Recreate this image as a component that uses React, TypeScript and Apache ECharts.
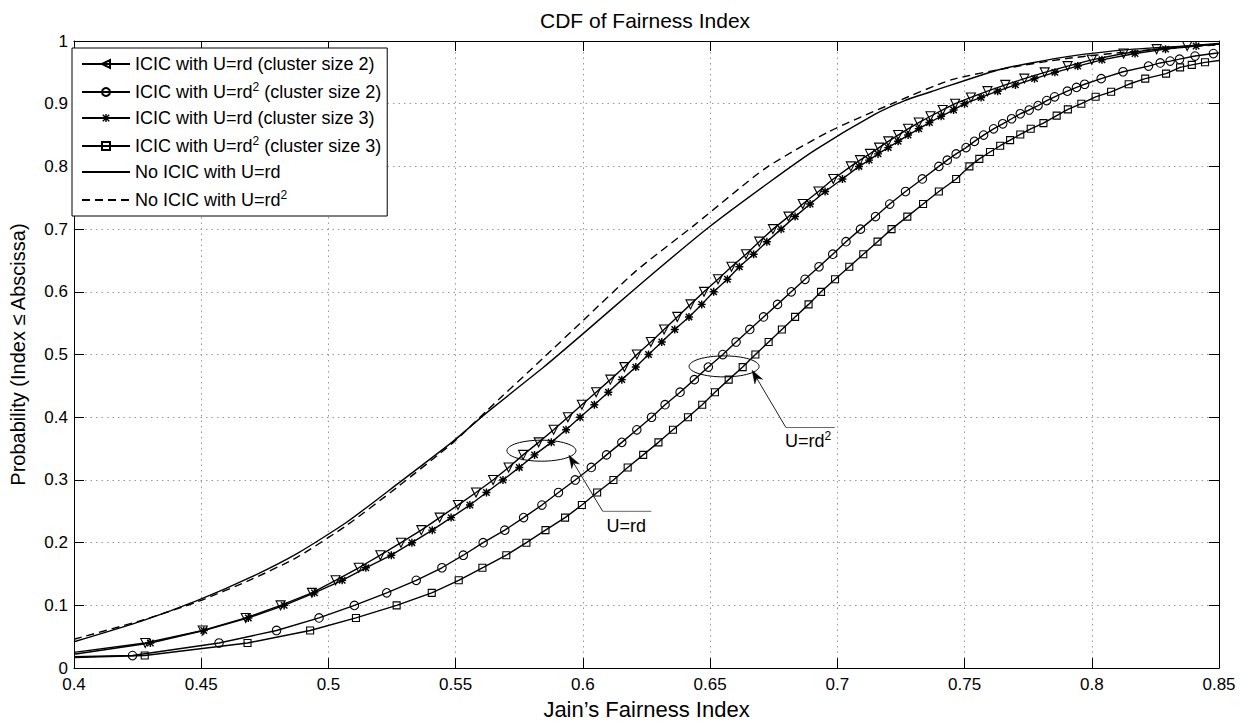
import React, { useEffect, useRef } from 'react';
import * as echarts from 'echarts';

// ---------- data ----------
const xTicksMin = 0.4;
const xTicksMax = 0.85;
const xTickStep = 0.05;
const yTicksMin = 0;
const yTicksMax = 1;
const yTickStep = 0.1;

const seriesNames = [
  'ICIC with U=rd (cluster size 2)',
  'ICIC with U=rd2 (cluster size 2)',
  'ICIC with U=rd (cluster size 3)',
  'ICIC with U=rd2 (cluster size 3)',
  'No ICIC with U=rd',
  'No ICIC with U=rd2',
];

// ICIC, U=rd, cluster size 2 (triangles)
const icicRdC2Start: [number, number] = [0.4, 0.025];
const icicRdC2Marks: [number, number][] = [
  [0.428, 0.04], [0.4506, 0.06], [0.4675, 0.08], [0.4812, 0.10], [0.4935, 0.12], [0.5028, 0.14],
  [0.5119, 0.16], [0.5204, 0.18], [0.5285, 0.20], [0.5365, 0.22], [0.5437, 0.24], [0.5509, 0.26],
  [0.558, 0.28], [0.5647, 0.30], [0.5708, 0.32], [0.5765, 0.34], [0.5826, 0.36], [0.5885, 0.38],
  [0.5941, 0.40], [0.5996, 0.42], [0.6052, 0.44], [0.6108, 0.46], [0.6163, 0.48], [0.6212, 0.50],
  [0.6267, 0.52], [0.6319, 0.54], [0.6371, 0.56], [0.6423, 0.58], [0.6476, 0.60], [0.6531, 0.62],
  [0.6584, 0.64], [0.6641, 0.66], [0.6693, 0.68], [0.6747, 0.70], [0.6808, 0.72], [0.6864, 0.74],
  [0.6926, 0.76], [0.6984, 0.78], [0.7053, 0.80], [0.7089, 0.81], [0.7128, 0.82], [0.7164, 0.83],
  [0.72, 0.84], [0.7239, 0.85], [0.7278, 0.86], [0.732, 0.87], [0.7366, 0.88], [0.7414, 0.89],
  [0.7463, 0.90], [0.7525, 0.91], [0.759, 0.92], [0.766, 0.93], [0.7735, 0.94], [0.7815, 0.95],
  [0.7905, 0.96], [0.80, 0.97], [0.8125, 0.98], [0.8255, 0.987], [0.8375, 0.992],
];
const icicRdC2End: [number, number] = [0.85, 0.996];

// ICIC, U=rd^2, cluster size 2 (circles)
const icicRd2C2Start: [number, number] = [0.4, 0.018];
const icicRd2C2Marks: [number, number][] = [
  [0.423, 0.02], [0.457, 0.04], [0.4796, 0.06], [0.4963, 0.08], [0.5102, 0.10], [0.5229, 0.12],
  [0.5345, 0.14], [0.5446, 0.16], [0.553, 0.18], [0.5608, 0.20], [0.5693, 0.22], [0.5767, 0.24],
  [0.5839, 0.26], [0.5904, 0.28], [0.597, 0.30], [0.6033, 0.32], [0.6093, 0.34], [0.6153, 0.36],
  [0.6212, 0.38], [0.627, 0.40], [0.6323, 0.42], [0.6382, 0.44], [0.6438, 0.46], [0.6493, 0.48],
  [0.655, 0.50], [0.6602, 0.52], [0.6656, 0.54], [0.671, 0.56], [0.6765, 0.58], [0.6819, 0.60],
  [0.6873, 0.62], [0.6928, 0.64], [0.6982, 0.66], [0.7034, 0.68], [0.7091, 0.70], [0.715, 0.72],
  [0.7206, 0.74], [0.7268, 0.76], [0.7334, 0.78], [0.7399, 0.80], [0.7432, 0.81], [0.7467, 0.82],
  [0.7506, 0.83], [0.7539, 0.84], [0.7575, 0.85], [0.7614, 0.86], [0.765, 0.868], [0.7685, 0.876],
  [0.7719, 0.884], [0.7754, 0.89], [0.7789, 0.897], [0.7823, 0.905], [0.7854, 0.911], [0.7904, 0.92],
  [0.794, 0.926], [0.7972, 0.931], [0.8037, 0.94], [0.8123, 0.951], [0.8223, 0.96], [0.8269, 0.965],
  [0.8308, 0.968], [0.8345, 0.971], [0.8406, 0.976], [0.8478, 0.98],
];
const icicRd2C2End: [number, number] = [0.85, 0.981];

// ICIC, U=rd, cluster size 3 (stars)
const icicRdC3Start: [number, number] = [0.4, 0.022];
const icicRdC3Marks: [number, number][] = [
  [0.430, 0.04], [0.451, 0.06], [0.4685, 0.08], [0.4826, 0.10], [0.4945, 0.12], [0.5054, 0.14],
  [0.5147, 0.16], [0.5247, 0.18], [0.5328, 0.20], [0.5408, 0.22], [0.5482, 0.24], [0.5556, 0.26],
  [0.5621, 0.28], [0.5686, 0.30], [0.575, 0.32], [0.581, 0.34], [0.5876, 0.36], [0.5934, 0.38],
  [0.5989, 0.40], [0.6045, 0.42], [0.61, 0.44], [0.6153, 0.46], [0.6208, 0.48], [0.6258, 0.50],
  [0.631, 0.52], [0.6361, 0.54], [0.6417, 0.56], [0.6467, 0.58], [0.6514, 0.60], [0.6568, 0.62],
  [0.6615, 0.64], [0.6671, 0.66], [0.6723, 0.68], [0.6779, 0.70], [0.6834, 0.72], [0.6893, 0.74],
  [0.6952, 0.76], [0.702, 0.78], [0.7085, 0.80], [0.7125, 0.81], [0.716, 0.82], [0.72, 0.83],
  [0.7239, 0.84], [0.7278, 0.85], [0.732, 0.86], [0.7362, 0.87], [0.7408, 0.88], [0.7457, 0.89],
  [0.75, 0.90], [0.7565, 0.91], [0.763, 0.92], [0.770, 0.93], [0.7775, 0.94], [0.7855, 0.95],
  [0.7945, 0.96], [0.804, 0.97], [0.817, 0.98], [0.829, 0.987], [0.841, 0.992],
];
const icicRdC3End: [number, number] = [0.85, 0.995];

// ICIC, U=rd^2, cluster size 3 (squares)
const icicRd2C3Start: [number, number] = [0.4, 0.017];
const icicRd2C3Marks: [number, number][] = [
  [0.4278, 0.02], [0.4682, 0.04], [0.4928, 0.06], [0.5108, 0.08], [0.5268, 0.10], [0.5406, 0.12],
  [0.5512, 0.14], [0.5605, 0.16], [0.5699, 0.18], [0.5778, 0.20], [0.5853, 0.22], [0.593, 0.24],
  [0.5996, 0.26], [0.6056, 0.28], [0.612, 0.30], [0.6176, 0.32], [0.6237, 0.34], [0.6297, 0.36],
  [0.6354, 0.38], [0.6413, 0.40], [0.6469, 0.42], [0.6519, 0.44], [0.6573, 0.46], [0.6628, 0.48],
  [0.6678, 0.50], [0.673, 0.52], [0.6782, 0.54], [0.6834, 0.56], [0.6887, 0.58], [0.6936, 0.60],
  [0.6991, 0.62], [0.7047, 0.64], [0.7102, 0.66], [0.7158, 0.68], [0.7213, 0.70], [0.7275, 0.72],
  [0.7337, 0.74], [0.7399, 0.76], [0.7467, 0.78], [0.7519, 0.80], [0.7558, 0.812], [0.76, 0.823],
  [0.764, 0.833], [0.7679, 0.842], [0.7719, 0.851], [0.776, 0.86], [0.781, 0.869], [0.7862, 0.881],
  [0.7906, 0.891], [0.7959, 0.90], [0.8015, 0.911], [0.8076, 0.919], [0.8145, 0.931], [0.821, 0.94],
  [0.8292, 0.948], [0.8347, 0.958], [0.8393, 0.962], [0.8445, 0.966],
];
const icicRd2C3End: [number, number] = [0.85, 0.969];

// No ICIC, U=rd (solid)
const noIcicRd: [number, number][] = [
  [0.4, 0.042], [0.4265, 0.075], [0.4486, 0.108], [0.4695, 0.145], [0.4878, 0.183], [0.5073, 0.233],
  [0.5269, 0.293], [0.5491, 0.362], [0.5621, 0.407], [0.5843, 0.479], [0.60, 0.533], [0.6234, 0.615],
  [0.6495, 0.703], [0.673, 0.774], [0.6912, 0.826], [0.7147, 0.883], [0.7265, 0.905], [0.7382, 0.921],
  [0.7643, 0.955], [0.7904, 0.975], [0.8165, 0.987], [0.85, 0.995],
];

// No ICIC, U=rd^2 (dashed)
const noIcicRd2: [number, number][] = [
  [0.4, 0.046], [0.4265, 0.076], [0.4486, 0.106], [0.4695, 0.141], [0.4878, 0.177], [0.5073, 0.228],
  [0.5269, 0.288], [0.5491, 0.36], [0.5621, 0.41], [0.5843, 0.494], [0.60, 0.554], [0.6208, 0.633],
  [0.6443, 0.708], [0.6717, 0.797], [0.6965, 0.855], [0.7226, 0.902], [0.7447, 0.938], [0.767, 0.957],
  [0.79, 0.972], [0.82, 0.985], [0.85, 0.994],
];

// annotations (data coordinates)
const rdEllipseCenter: [number, number] = [0.5837, 0.3467];
const rdArrowTip: [number, number] = [0.5945, 0.3396];
const rdArrowTail: [number, number] = [0.6078, 0.25];
const rdUnderlineEnd: [number, number] = [0.6269, 0.25];
const rdLabelPos: [number, number] = [0.6093, 0.227];
const rd2EllipseCenter: [number, number] = [0.6555, 0.4811];
const rd2ArrowTip: [number, number] = [0.6665, 0.4748];
const rd2ArrowTail: [number, number] = [0.6798, 0.3836];
const rd2UnderlineEnd: [number, number] = [0.699, 0.3836];
const rd2LabelPos: [number, number] = [0.6794, 0.362];

const FONT = '"Liberation Sans", Arial, Helvetica, sans-serif';

const STAR =
  'path://M0,8.2L20,8.2L20,11.8L0,11.8Z M8.2,0L11.8,0L11.8,20L8.2,20Z ' +
  'M3.27,0.73L19.27,16.73L16.73,19.27L0.73,3.27Z M19.27,3.27L3.27,19.27L0.73,16.73L16.73,0.73Z';

function withEnds(start: [number, number], marks: [number, number][], end: [number, number]) {
  return [
    { value: start, symbol: 'none' },
    ...marks.map((m) => ({ value: m })),
    { value: end, symbol: 'none' },
  ];
}

const hollow = { color: 'rgba(0,0,0,0)', borderColor: '#000', borderWidth: 1.1 };
const lineBase = { color: '#000', width: 1.4 };

function buildOption(): any {
  const axisCommon = {
    type: 'value',
    axisLine: { show: true, onZero: false, lineStyle: { color: '#000', width: 1 } },
    axisTick: { show: true, inside: true, length: 10, lineStyle: { color: '#000', width: 1 } },
  };
  return {
    animation: false,
    backgroundColor: '#fff',
    title: {
      text: 'CDF of Fairness Index',
      left: 535,
      top: 5,
      textStyle: { fontSize: 21, fontWeight: 'normal', color: '#000', fontFamily: FONT },
    },
    grid: { left: 69, right: 24, top: 41, bottom: 48 },
    xAxis: [
      {
        ...axisCommon,
        position: 'bottom',
        min: xTicksMin,
        max: xTicksMax,
        interval: xTickStep,
        axisLabel: { color: '#000', fontSize: 17, fontFamily: FONT, margin: 8 },
        splitLine: { show: true, lineStyle: { color: '#999', type: [1.5, 4], width: 1 } },
        name: 'Jain’s Fairness Index',
        nameLocation: 'middle',
        nameGap: 27,
        nameTextStyle: { fontSize: 22, color: '#000', fontFamily: FONT },
      },
      {
        ...axisCommon,
        position: 'top',
        min: xTicksMin,
        max: xTicksMax,
        interval: xTickStep,
        axisLabel: { show: false },
        splitLine: { show: false },
      },
    ],
    yAxis: [
      {
        ...axisCommon,
        position: 'left',
        min: yTicksMin,
        max: yTicksMax,
        interval: yTickStep,
        axisLabel: { color: '#000', fontSize: 17, fontFamily: FONT, margin: 6 },
        splitLine: { show: true, lineStyle: { color: '#999', type: [1.5, 4], width: 1 } },
        name: 'Probability (Index ≤ Abscissa)',
        nameLocation: 'middle',
        nameGap: 46,
        nameTextStyle: { fontSize: 20, color: '#000', fontFamily: FONT },
      },
      {
        ...axisCommon,
        position: 'right',
        min: yTicksMin,
        max: yTicksMax,
        interval: yTickStep,
        axisLabel: { show: false },
        splitLine: { show: false },
      },
    ],
    legend: {
      orient: 'vertical',
      left: 72,
      top: 48,
      padding: [7, 6, 7, 9],
      itemGap: 8,
      itemWidth: 48,
      itemHeight: 10,
      backgroundColor: '#fff',
      borderColor: '#000',
      borderWidth: 1,
      selectedMode: false,
      textStyle: {
        color: '#000',
        fontSize: 18,
        fontFamily: FONT,
        rich: {
          t: { fontSize: 18, lineHeight: 22, fontFamily: FONT, color: '#000' },
          sup: { fontSize: 12, lineHeight: 12, verticalAlign: 'top', fontFamily: FONT, color: '#000' },
        },
      },
      formatter: (name: string) => {
        const parts = name.split('rd2');
        if (parts.length === 1) return `{t|${name}}`;
        return `{t|${parts[0]}rd}{sup|2}` + (parts[1] ? `{t|${parts[1]}}` : '');
      },
      data: [
        { name: seriesNames[0], symbolRotate: 90 },
        { name: seriesNames[1] },
        { name: seriesNames[2] },
        { name: seriesNames[3] },
        { name: seriesNames[4], itemStyle: { color: 'rgba(0,0,0,0)', borderColor: 'rgba(0,0,0,0)', borderWidth: 0 } },
        { name: seriesNames[5], itemStyle: { color: 'rgba(0,0,0,0)', borderColor: 'rgba(0,0,0,0)', borderWidth: 0 } },
      ],
    },
    series: [
      {
        name: seriesNames[0],
        type: 'line',
        data: withEnds(icicRdC2Start, icicRdC2Marks, icicRdC2End),
        symbol: 'triangle',
        symbolRotate: 180,
        symbolSize: 9,
        showAllSymbol: true,
        itemStyle: hollow,
        lineStyle: lineBase,
        z: 3,
      },
      {
        name: seriesNames[1],
        type: 'line',
        data: withEnds(icicRd2C2Start, icicRd2C2Marks, icicRd2C2End),
        symbol: 'circle',
        symbolSize: 8.5,
        showAllSymbol: true,
        itemStyle: hollow,
        lineStyle: lineBase,
        z: 3,
      },
      {
        name: seriesNames[2],
        type: 'line',
        data: withEnds(icicRdC3Start, icicRdC3Marks, icicRdC3End),
        symbol: STAR,
        symbolSize: 8,
        showAllSymbol: true,
        itemStyle: { color: '#000' },
        lineStyle: lineBase,
        z: 3,
      },
      {
        name: seriesNames[3],
        type: 'line',
        data: withEnds(icicRd2C3Start, icicRd2C3Marks, icicRd2C3End),
        symbol: 'rect',
        symbolSize: 7,
        showAllSymbol: true,
        itemStyle: hollow,
        lineStyle: lineBase,
        z: 3,
      },
      {
        name: seriesNames[4],
        type: 'line',
        data: noIcicRd,
        symbol: 'none',
        showSymbol: false,
        smooth: 0.2,
        itemStyle: { color: '#000' },
        lineStyle: lineBase,
        z: 2,
      },
      {
        name: seriesNames[5],
        type: 'line',
        data: noIcicRd2,
        symbol: 'none',
        showSymbol: false,
        smooth: 0.2,
        itemStyle: { color: '#000' },
        lineStyle: { color: '#000', width: 1.4, type: [8, 5] },
        z: 2,
      },
    ],
  };
}

function arrowGraphics(tip: number[], tail: number[], end: number[]) {
  const dx = tip[0] - tail[0];
  const dy = tip[1] - tail[1];
  const len = Math.sqrt(dx * dx + dy * dy) || 1;
  const ux = dx / len;
  const uy = dy / len;
  const nx = -uy;
  const ny = ux;
  const L = 13;
  const W = 4.5;
  const back = [tip[0] - ux * L, tip[1] - uy * L];
  const notch = [tip[0] - ux * L * 0.7, tip[1] - uy * L * 0.7];
  return [
    {
      type: 'line',
      shape: { x1: tail[0], y1: tail[1], x2: notch[0], y2: notch[1] },
      style: { stroke: '#222', lineWidth: 1 },
      silent: true,
    },
    {
      type: 'polygon',
      shape: {
        points: [
          [tip[0], tip[1]],
          [back[0] + nx * W, back[1] + ny * W],
          [notch[0], notch[1]],
          [back[0] - nx * W, back[1] - ny * W],
        ],
      },
      style: { fill: '#000', stroke: '#000', lineWidth: 0.5 },
      silent: true,
    },
    {
      type: 'line',
      shape: { x1: tail[0], y1: tail[1], x2: end[0], y2: end[1] },
      style: { stroke: '#666', lineWidth: 1 },
      silent: true,
    },
  ];
}

export default function App() {
  const ref = useRef<HTMLDivElement>(null);
  useEffect(() => {
    if (!ref.current) return;
    const chart = echarts.init(ref.current, null, { renderer: 'svg' });
    chart.setOption(buildOption());
    const px = (p: [number, number]) => chart.convertToPixel({ seriesIndex: 0 }, p) as number[];

    const e1 = px(rdEllipseCenter);
    const e2 = px(rd2EllipseCenter);
    const label1 = px(rdLabelPos);
    const label2 = px(rd2LabelPos);
    const graphics: any[] = [
      {
        type: 'ellipse',
        shape: { cx: e1[0], cy: e1[1], rx: 34.5, ry: 10.5 },
        style: { fill: 'none', stroke: '#000', lineWidth: 1 },
        silent: true,
      },
      {
        type: 'ellipse',
        shape: { cx: e2[0], cy: e2[1], rx: 35, ry: 10.5 },
        style: { fill: 'none', stroke: '#000', lineWidth: 1 },
        silent: true,
      },
      ...arrowGraphics(px(rdArrowTip), px(rdArrowTail), px(rdUnderlineEnd)),
      ...arrowGraphics(px(rd2ArrowTip), px(rd2ArrowTail), px(rd2UnderlineEnd)),
      {
        type: 'text',
        x: label1[0],
        y: label1[1],
        style: {
          text: 'U=rd',
          fontSize: 18,
          fontFamily: FONT,
          fill: '#000',
          align: 'left',
          verticalAlign: 'middle',
        },
        silent: true,
      },
      {
        type: 'text',
        x: label2[0],
        y: label2[1],
        style: {
          text: '{a|U=rd}{b|2}',
          fontSize: 18,
          fontFamily: FONT,
          fill: '#000',
          align: 'left',
          verticalAlign: 'middle',
          rich: {
            a: { fontSize: 18, lineHeight: 22, fontFamily: FONT, fill: '#000' },
            b: { fontSize: 12, lineHeight: 12, verticalAlign: 'top', fontFamily: FONT, fill: '#000' },
          },
        },
        silent: true,
      },
    ];
    chart.setOption({ graphic: graphics.map((g) => ({ z: 100, ...g })) });
    return () => chart.dispose();
  }, []);
  return (
    <div
      ref={ref}
      style={{ position: 'fixed', left: 0, top: 0, width: 1243, height: 725, background: '#fff' }}
    />
  );
}
